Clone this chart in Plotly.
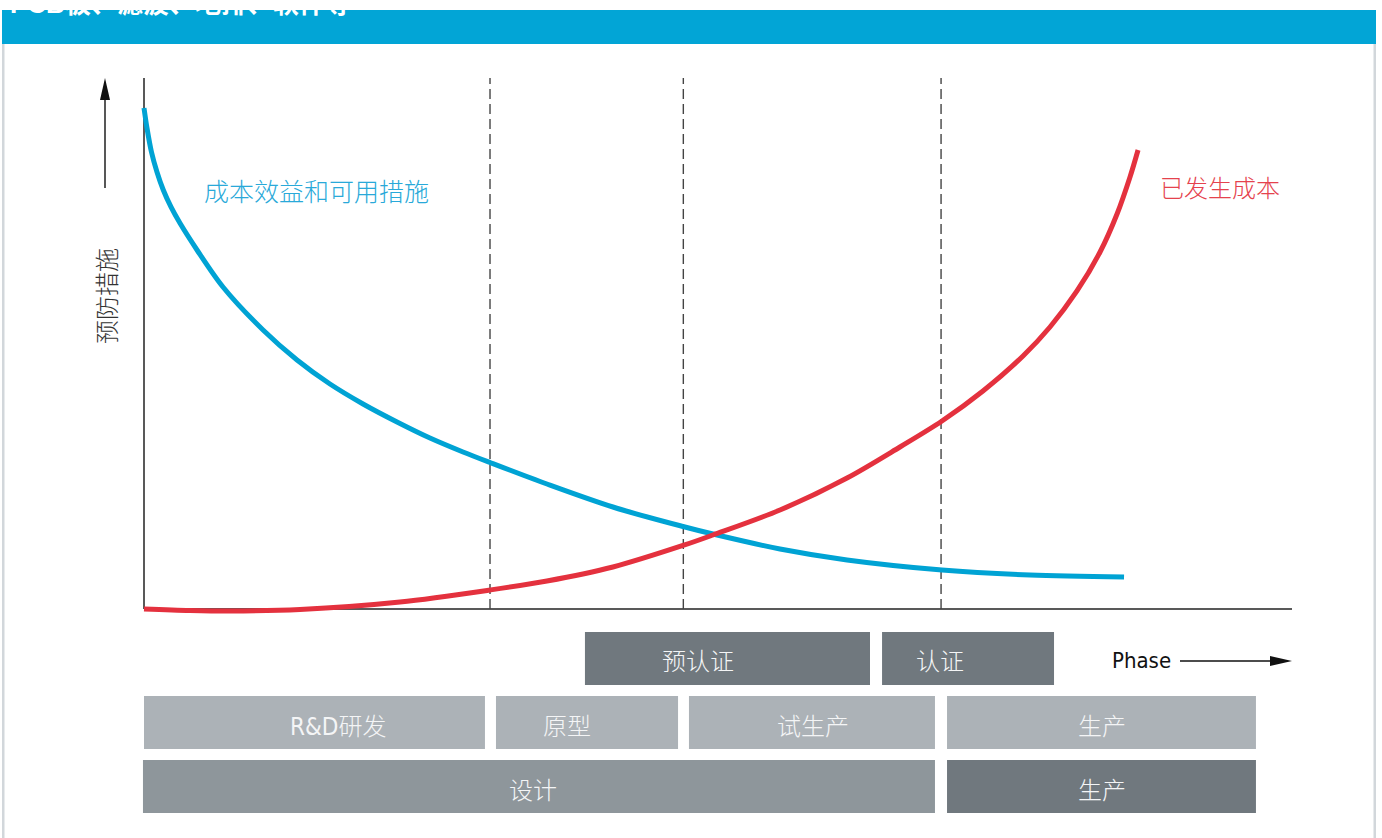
import plotly.graph_objects as go

# ---------------- data ----------------
# x: phase position (0 = start of project, 100 = end of phase axis); y: relative level (0-100)
benefit_x = [0, 0.26, 0.65, 1.13, 1.68, 2.35, 3.14, 4.62, 6.88, 10.37, 13.33, 16.20, 19.08, 22.04, 24.91,
             27.79, 30.14, 35.10, 40.85, 46.95, 49.56, 55.40, 61.24, 69.51, 77.18, 85.37]
benefit_y = [94.35, 90.58, 86.06, 82.30, 78.91, 75.71, 72.63, 67.61, 60.64, 52.54, 46.89, 42.37, 38.61,
             35.22, 32.20, 29.57, 27.59, 23.54, 19.21, 15.54, 14.12, 11.30, 9.23, 7.34, 6.40, 6.03]

cost_x = [0, 4.01, 7.49, 13.59, 22.30, 30.14, 35.10, 40.85, 46.95, 49.56, 55.40, 61.24,
          65.85, 69.51, 73.08, 76.57, 78.92, 81.27, 83.28, 84.76, 85.89, 86.59]
cost_y = [0, -0.28, -0.38, -0.09, 1.32, 3.58, 5.27, 7.91, 11.96, 13.94, 18.64, 24.67,
          30.51, 35.40, 41.05, 47.65, 53.11, 59.89, 67.23, 74.39, 81.36, 86.44]

phase_bounds = [30.14, 46.98, 69.43]

row1_labels = ["预认证", "认证"]
row1_start = [38.41, 64.29]
row1_end = [63.24, 79.27]
row1_label_x = [48.26, 69.34]

row2_labels = ["R&D研发", "原型", "试生产", "生产"]
row2_start = [0.0, 30.66, 47.47, 69.95]
row2_end = [29.70, 46.52, 68.90, 96.86]
row2_label_x = [16.90, 36.85, 58.28, 83.45]

row3_labels = ["设计", "生产"]
row3_start = [-0.09, 69.95]
row3_end = [68.90, 96.86]
row3_label_x = [33.89, 83.45]

curve_labels = ["成本效益和可用措施", "已发生成本"]
y_title = "预防措施"
x_title = "Phase"
banner_text = "PCB板、滤波、地排、软件等"

# ---------------- layout helpers ----------------
W, H = 1382, 838
X0_PX, X_SCALE = 144, 11.48
Y0_PX, Y_SCALE = 609, 5.31


def X(px):
    return (px - X0_PX) / X_SCALE


def Y(py):
    return (Y0_PX - py) / Y_SCALE


BLUE = "#00A3D4"
RED = "#E4313E"
DARK = "#70787E"
LIGHT = "#ACB2B7"
MID = "#8E969B"
CJK = "Noto Sans CJK SC"
NARROW = "DejaVu Sans Condensed, Liberation Sans Narrow, Noto Sans CJK SC"

ROW_H = 53 / Y_SCALE
row1_c, row2_c, row3_c = Y(658.5), Y(722.5), Y(786.5)

fig = go.Figure()


def add_row(starts, ends, yc, colors):
    fig.add_trace(go.Bar(
        orientation="h",
        base=starts,
        x=[e - s for s, e in zip(starts, ends)],
        y=[yc] * len(starts),
        width=ROW_H,
        marker=dict(color=colors, line=dict(width=0)),
        hoverinfo="skip",
        showlegend=False,
    ))


add_row(row1_start, row1_end, row1_c, [DARK, DARK])
add_row(row2_start, row2_end, row2_c, [LIGHT] * 4)
add_row(row3_start, row3_end, row3_c, [MID, DARK])

fig.add_trace(go.Scatter(x=benefit_x, y=benefit_y, mode="lines",
                         line=dict(color=BLUE, width=5, shape="spline", smoothing=0.9),
                         hoverinfo="skip", showlegend=False))
fig.add_trace(go.Scatter(x=cost_x, y=cost_y, mode="lines",
                         line=dict(color=RED, width=5, shape="spline", smoothing=0.9),
                         hoverinfo="skip", showlegend=False))

shapes = []
# banner and side borders
shapes.append(dict(type="rect", xref="paper", yref="paper", x0=2 / W, x1=1376 / W,
                   y0=1 - 44 / H, y1=1 - 10 / H, fillcolor="#02A5D6", line=dict(width=0), layer="below"))
shapes.append(dict(type="rect", xref="paper", yref="paper", x0=2 / W, x1=4.5 / W,
                   y0=0, y1=1 - 44 / H, fillcolor="#D2D7DB", line=dict(width=0), layer="below"))
shapes.append(dict(type="rect", xref="paper", yref="paper", x0=1373.5 / W, x1=1376 / W,
                   y0=0, y1=1 - 44 / H, fillcolor="#D2D7DB", line=dict(width=0), layer="below"))
# axes
shapes.append(dict(type="line", xref="x", yref="y", x0=0, x1=0, y0=0, y1=100,
                   line=dict(color="#222", width=1.5), layer="below"))
shapes.append(dict(type="line", xref="x", yref="y", x0=0, x1=100, y0=0, y1=0,
                   line=dict(color="#222", width=1.5), layer="below"))
# phase boundaries
for b in phase_bounds:
    shapes.append(dict(type="line", xref="x", yref="y", x0=b, x1=b, y0=0, y1=100,
                       line=dict(color="#444", width=1.4, dash="10px,5px"), layer="below"))
# up arrow
shapes.append(dict(type="line", xref="x", yref="y", x0=X(105), x1=X(105), y0=Y(188), y1=Y(96),
                   line=dict(color="#111", width=1.4)))
shapes.append(dict(type="path", xref="x", yref="y",
                   path=f"M {X(105)} {Y(78)} L {X(100)} {Y(100)} L {X(110)} {Y(100)} Z",
                   fillcolor="#111", line=dict(width=0)))
# phase arrow
shapes.append(dict(type="line", xref="x", yref="y", x0=X(1180), x1=X(1275), y0=Y(661), y1=Y(661),
                   line=dict(color="#111", width=1.4)))
shapes.append(dict(type="path", xref="x", yref="y",
                   path=f"M {X(1292)} {Y(661)} L {X(1270)} {Y(656)} L {X(1270)} {Y(666)} Z",
                   fillcolor="#111", line=dict(width=0)))

ann = []


def txt(text, x, y, color, size, family=CJK, angle=0, xanchor="center"):
    ann.append(dict(text=text, x=x, y=y, xref="x", yref="y", showarrow=False,
                    font=dict(color=color, size=size, family=family, weight=300),
                    textangle=angle, xanchor=xanchor, yanchor="middle"))


txt(curve_labels[0], X(316.5), Y(190), "#29A9D9", 25)
txt(curve_labels[1], X(1219.5), Y(186), "#E5424D", 24)
txt(y_title, X(105), Y(296), "#333", 24, angle=-90)
txt(x_title, X(1141), Y(660), "#111", 22, family=NARROW)

for labels, lx, yc in [(row1_labels, row1_label_x, Y(662)),
                       (row2_labels, row2_label_x, Y(726.5)),
                       (row3_labels, row3_label_x, Y(790.5))]:
    for lab, x in zip(labels, lx):
        txt(lab, x, yc, "#F4F5F6", 24, family=NARROW)

# banner text (clipped at top of page, as in the reference)
ann.append(dict(text=banner_text, x=8 / W, y=1 - 4 / H, xref="paper", yref="paper", showarrow=False,
                xanchor="left", yanchor="middle",
                font=dict(color="white", size=26, family="Liberation Sans, Noto Sans CJK SC", weight="bold")))

fig.update_layout(
    width=W, height=H,
    margin=dict(l=0, r=0, t=0, b=0),
    paper_bgcolor="white", plot_bgcolor="white",
    barmode="overlay",
    xaxis=dict(range=[X(0), X(W)], visible=False, fixedrange=True),
    yaxis=dict(range=[Y(H), Y(0)], visible=False, fixedrange=True),
    shapes=shapes, annotations=ann,
)

fig.write_html("out.html")
